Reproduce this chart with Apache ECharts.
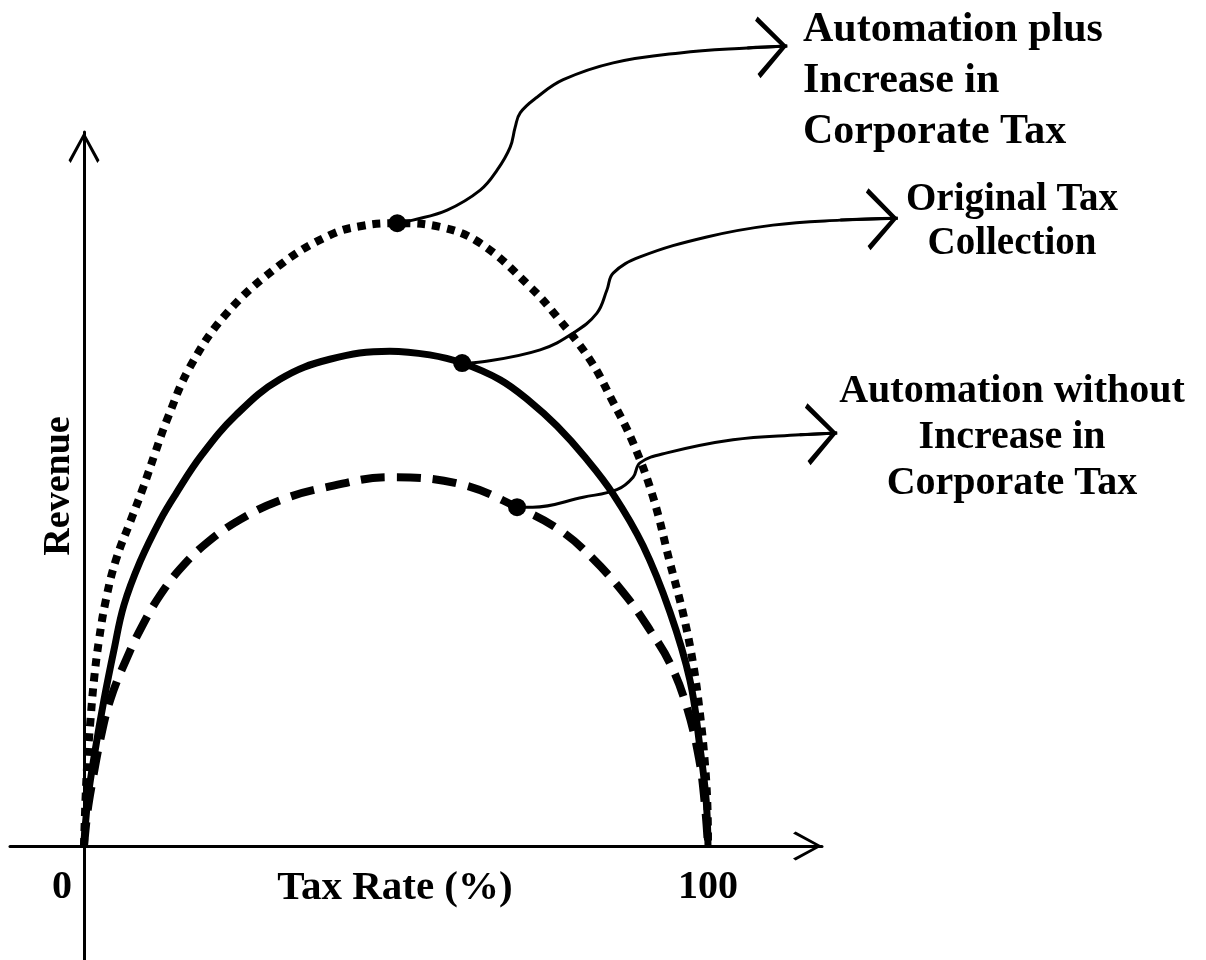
<!DOCTYPE html>
<html>
<head>
<meta charset="utf-8">
<script src="https://cdn.jsdelivr.net/npm/echarts@6.0.0/dist/echarts.min.js"></script>
<style>
    html, body { margin: 0; padding: 0; background: #fff; }
    #main { width: 1206px; height: 960px; }
</style>
</head>
<body>
<div id="main"></div>
<script>
// 曲线数据 (x = 税率 %, y = 收入, 同一比例)
var plusCurve = [[0, 0], [0.24, 7.4], [0.56, 13.8], [1.04, 20.2], [1.6, 26.6], [2.4, 33.0], [3.5, 39.4], [5.1, 45.8],
    [7.5, 52.2], [9.5, 57.5], [11.4, 63.0], [13.3, 68.3], [17.0, 76.8], [22.9, 85.4], [31.4, 93.1], [39.4, 97.9],
    [44.7, 99.4], [50.2, 99.8], [57.1, 99.2], [63.5, 96.6], [71.5, 89.6], [75.8, 84.8], [81.1, 77.9], [84.6, 71.5],
    [88.0, 64.6], [91.2, 55.9], [93.9, 45.4], [96.0, 37.3], [97.6, 29.3], [98.7, 21.3], [99.5, 13.3], [99.9, 6.6], [100, 0]];

var originalCurve = [[0, 0], [0.6, 7.4], [1.8, 15.4], [3.2, 23.4], [4.8, 31.4], [6.4, 38.6], [9.0, 45.6], [12.2, 52.2],
    [14.7, 56.4], [18.9, 62.7], [24.4, 69.1], [31.4, 74.8], [39.4, 78.0], [49.0, 79.3], [55.4, 78.7], [60.6, 77.4],
    [66.7, 74.7], [71.5, 71.2], [75.8, 67.3], [80.3, 62.3], [84.8, 56.4], [89.6, 48.1], [93.9, 37.5], [97.1, 26.6],
    [98.7, 15.9], [99.7, 7.4], [100, 0]];

var withoutCurve = [[0, 0], [0.6, 5.8], [1.3, 10.1], [2.6, 17.0], [4.2, 23.4], [6.9, 30.2], [9.5, 35.6], [12.2, 40.2],
    [15.4, 44.4], [19.7, 48.6], [25.0, 52.3], [31.4, 55.4], [38.9, 57.5], [49.0, 59.1], [60.3, 58.0], [69.4, 54.3],
    [76.3, 50.6], [81.6, 46.0], [87.0, 39.9], [90.7, 34.6], [93.9, 29.3], [96.6, 22.3], [98.6, 13.8], [99.5, 6.6], [100, 0]];

// 标注点
var dotPoints = [[50.2, 99.8], [60.6, 77.4], [69.4, 54.3]];

// 连接箭头
var linkPlus = [[50.2, 99.8], [52.7, 100.3], [58.2, 101.9], [63.5, 105.1], [66.2, 108.3], [68.3, 112.0], [69.1, 115.2],
    [69.9, 117.5], [72.6, 120.0], [76.8, 122.8], [84.8, 125.5], [95.5, 127.1], [106.3, 127.9], [112.7, 128.2]];
var linkOriginal = [[60.6, 77.4], [63.9, 77.6], [73.1, 79.5], [78.4, 82.2], [82.2, 85.4], [83.8, 89.1], [84.8, 91.8],
    [89.1, 94.4], [99.8, 97.6], [110.4, 99.5], [121.2, 100.3], [130.4, 100.6]];
var linkWithout = [[69.4, 54.3], [71.9, 54.3], [80.0, 55.9], [85.4, 57.1], [88.0, 59.1], [89.1, 61.4], [93.4, 63.0],
    [104.0, 65.1], [114.7, 65.9], [120.7, 66.2]];

var xTicks = [0, 100];
var xName = 'Tax Rate (%)';
var yName = 'Revenue';
var labelPlus = ['Automation plus', 'Increase in', 'Corporate Tax'];
var labelOriginal = ['Original Tax', 'Collection'];
var labelWithout = ['Automation without', 'Increase in', 'Corporate Tax'];

var serif = '"Liberation Serif", "Times New Roman", serif';
// 开口箭头 (尖端在包围盒中心)
var arrowPath = 'path://M49,-100 L51,-100 L50,-100 Z M50,0 L100,91 L93,100 L50,19 L7,100 L0,91 Z';

var chart = echarts.init(document.getElementById('main'));

var links = [linkPlus, linkOriginal, linkWithout];
var pxPerUnit = 6.24;

function linkSeries(d) {
    return {
        type: 'line', data: d, smooth: 0.4, showSymbol: false, clip: false,
        xAxisIndex: 1, yAxisIndex: 1,
        lineStyle: { color: '#000', width: 3 }, z: 3
    };
}

var option = {
    animation: false,
    backgroundColor: '#fff',
    grid: [
        // 坐标轴所在网格
        { left: 10, right: 384, top: 132, bottom: 0, containLabel: false, outerBoundsMode: 'none' },
        // 整个画布, 同比例, 用于箭头和标注
        { left: 10, right: 0, top: 0, bottom: 0, containLabel: false, outerBoundsMode: 'none' }
    ],
    xAxis: [{
        type: 'value',
        gridIndex: 0,
        position: 'bottom',
        offset: -114,
        min: -11.86,
        max: 118.27,
        splitLine: { show: false },
        axisTick: { show: false },
        axisLine: {
            onZero: false,
            lineStyle: { color: '#000', width: 3 },
            symbol: ['none', arrowPath],
            symbolSize: [32, 58]
        },
        axisLabel: {
            customValues: xTicks,
            margin: 22,
            color: '#000',
            formatter: function (v) {
                return v === 0 ? '{l|' + v + '}' : '{c|' + v + '}';
            },
            rich: {
                l: { fontFamily: serif, fontWeight: 'bold', fontSize: 40, color: '#000', padding: [0, 44, 0, 0] },
                c: { fontFamily: serif, fontWeight: 'bold', fontSize: 40, color: '#000' }
            }
        },
        name: xName,
        nameLocation: 'middle',
        nameGap: 22,
        nameMoveOverlap: false,
        nameTextStyle: {
            color: '#000', fontFamily: serif, fontWeight: 'bold', fontSize: 41,
            padding: [0, 42, 0, 0]
        }
    }, {
        type: 'value',
        gridIndex: 1,
        show: false,
        min: -11.86,
        max: -11.86 + 1196 / pxPerUnit
    }],
    yAxis: [{
        type: 'value',
        gridIndex: 0,
        position: 'left',
        offset: -74,
        min: -18.27,
        max: 114.42,
        splitLine: { show: false },
        axisTick: { show: false },
        axisLabel: { show: false },
        axisLine: {
            onZero: false,
            lineStyle: { color: '#000', width: 3 },
            symbol: ['none', arrowPath],
            symbolSize: [31, 66]
        },
        name: yName,
        nameLocation: 'middle',
        nameGap: 6,
        nameMoveOverlap: false,
        nameTextStyle: {
            color: '#000', fontFamily: serif, fontWeight: 'bold', fontSize: 38,
            padding: [0, 0, 0, 120]
        }
    }, {
        type: 'value',
        gridIndex: 1,
        show: false,
        min: -18.27,
        max: -18.27 + 960 / pxPerUnit
    }],
    graphic: [
        {
            type: 'text', left: 803, top: 5,
            style: {
                text: labelPlus.join('\n'), fill: '#000',
                font: 'bold 42px ' + serif, lineHeight: 51
            }
        },
        {
            type: 'text', x: 1012, y: 178,
            style: {
                text: labelOriginal.join('\n'), fill: '#000', align: 'center',
                font: 'bold 39px ' + serif, lineHeight: 44
            }
        },
        {
            type: 'text', x: 1012, y: 369,
            style: {
                text: labelWithout.join('\n'), fill: '#000', align: 'center',
                font: 'bold 40px ' + serif, lineHeight: 46
            }
        }
    ],
    series: [
        {
            name: 'Automation plus Increase in Corporate Tax',
            type: 'line',
            data: plusCurve,
            smooth: 0.4,
            showSymbol: false,
            lineStyle: { color: '#000', width: 8, type: [8, 7], cap: 'butt' }
        },
        {
            name: 'Original Tax Collection',
            type: 'line',
            data: originalCurve,
            smooth: 0.4,
            showSymbol: false,
            lineStyle: { color: '#000', width: 7 }
        },
        {
            name: 'Automation without Increase in Corporate Tax',
            type: 'line',
            data: withoutCurve,
            smooth: 0.4,
            showSymbol: false,
            lineStyle: { color: '#000', width: 8, type: [24, 12], cap: 'butt' }
        },
        linkSeries(linkPlus),
        linkSeries(linkOriginal),
        linkSeries(linkWithout),
        {
            type: 'lines',
            coordinateSystem: 'cartesian2d',
            xAxisIndex: 1, yAxisIndex: 1,
            clip: false,
            symbol: ['none', arrowPath],
            symbolSize: [30, 62],
            lineStyle: { color: '#000', width: 3, opacity: 1 },
            data: links.map(function (l) {
                return { coords: [l[l.length - 2], l[l.length - 1]] };
            }),
            z: 3
        },
        {
            type: 'scatter',
            xAxisIndex: 1, yAxisIndex: 1,
            data: dotPoints,
            symbol: 'circle',
            symbolSize: 18,
            itemStyle: { color: '#000', opacity: 1 },
            z: 4
        }
    ]
};

chart.setOption(option);
</script>
</body>
</html>
